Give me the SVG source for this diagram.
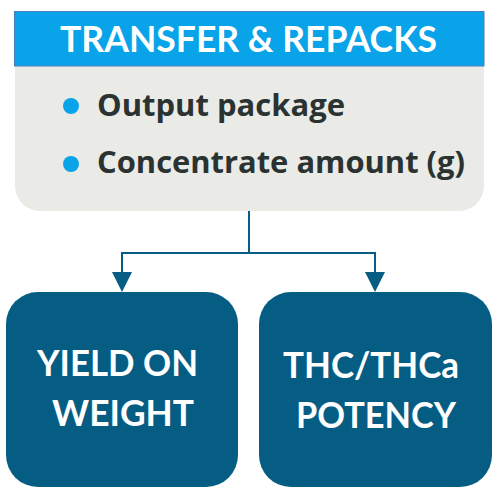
<svg xmlns="http://www.w3.org/2000/svg" width="499" height="487" viewBox="0 0 499 487">
<defs>
<style>
.t{font-family:Lato,"Open Sans","Liberation Sans",sans-serif;font-weight:700;}
.w{fill:#ffffff;font-size:37px;}
.d{fill:#2b3332;font-size:31px;font-family:"Open Sans",Lato,"Liberation Sans",sans-serif;}
.conn{fill:none;stroke:#065e85;stroke-width:2;}
.box{fill:#065d84;}
</style>
</defs>
<rect width="499" height="487" fill="#ffffff"/>
<g id="transfer">
<path d="M15,66 H484 V186 A25,25 0 0 1 459,211 H40 A25,25 0 0 1 15,186 Z" fill="#eaebe7"/>
<rect x="14.5" y="11.5" width="469.5" height="54.5" fill="#08a3e8" stroke="#4a7ebb" stroke-width="1"/>
<text class="t w" x="248.5" y="52" text-anchor="middle" textLength="377" lengthAdjust="spacingAndGlyphs">TRANSFER &amp; REPACKS</text>
<circle cx="71" cy="106" r="8" fill="#08a3e8"/>
<text class="t d" x="97" y="115.5" textLength="248" lengthAdjust="spacingAndGlyphs">Output package</text>
<circle cx="71" cy="164" r="8" fill="#08a3e8"/>
<text class="t d" x="97" y="173" textLength="368" lengthAdjust="spacingAndGlyphs">Concentrate amount (g)</text>
</g>
<g id="connectors">
<path class="conn" d="M249,211 V253 H122 V274"/>
<path class="conn" d="M249,253 H375 V274"/>
<path d="M112,272 L132,272 L122,292 Z" fill="#065e85"/>
<path d="M365,272 L385,272 L375,292 Z" fill="#065e85"/>
</g>
<g id="yield">
<rect class="box" x="6" y="292" width="232" height="195" rx="32" ry="32"/>
<text class="t w" x="117.5" y="376" text-anchor="middle" textLength="161" lengthAdjust="spacingAndGlyphs">YIELD ON</text>
<text class="t w" x="123" y="426" text-anchor="middle" textLength="142" lengthAdjust="spacingAndGlyphs">WEIGHT</text>
</g>
<g id="potency">
<rect class="box" x="259" y="292" width="233" height="195" rx="32" ry="32"/>
<text class="t w" x="371" y="378" text-anchor="middle" textLength="176" lengthAdjust="spacingAndGlyphs">THC/THCa</text>
<text class="t w" x="376" y="428" text-anchor="middle" textLength="160" lengthAdjust="spacingAndGlyphs">POTENCY</text>
</g>
</svg>
